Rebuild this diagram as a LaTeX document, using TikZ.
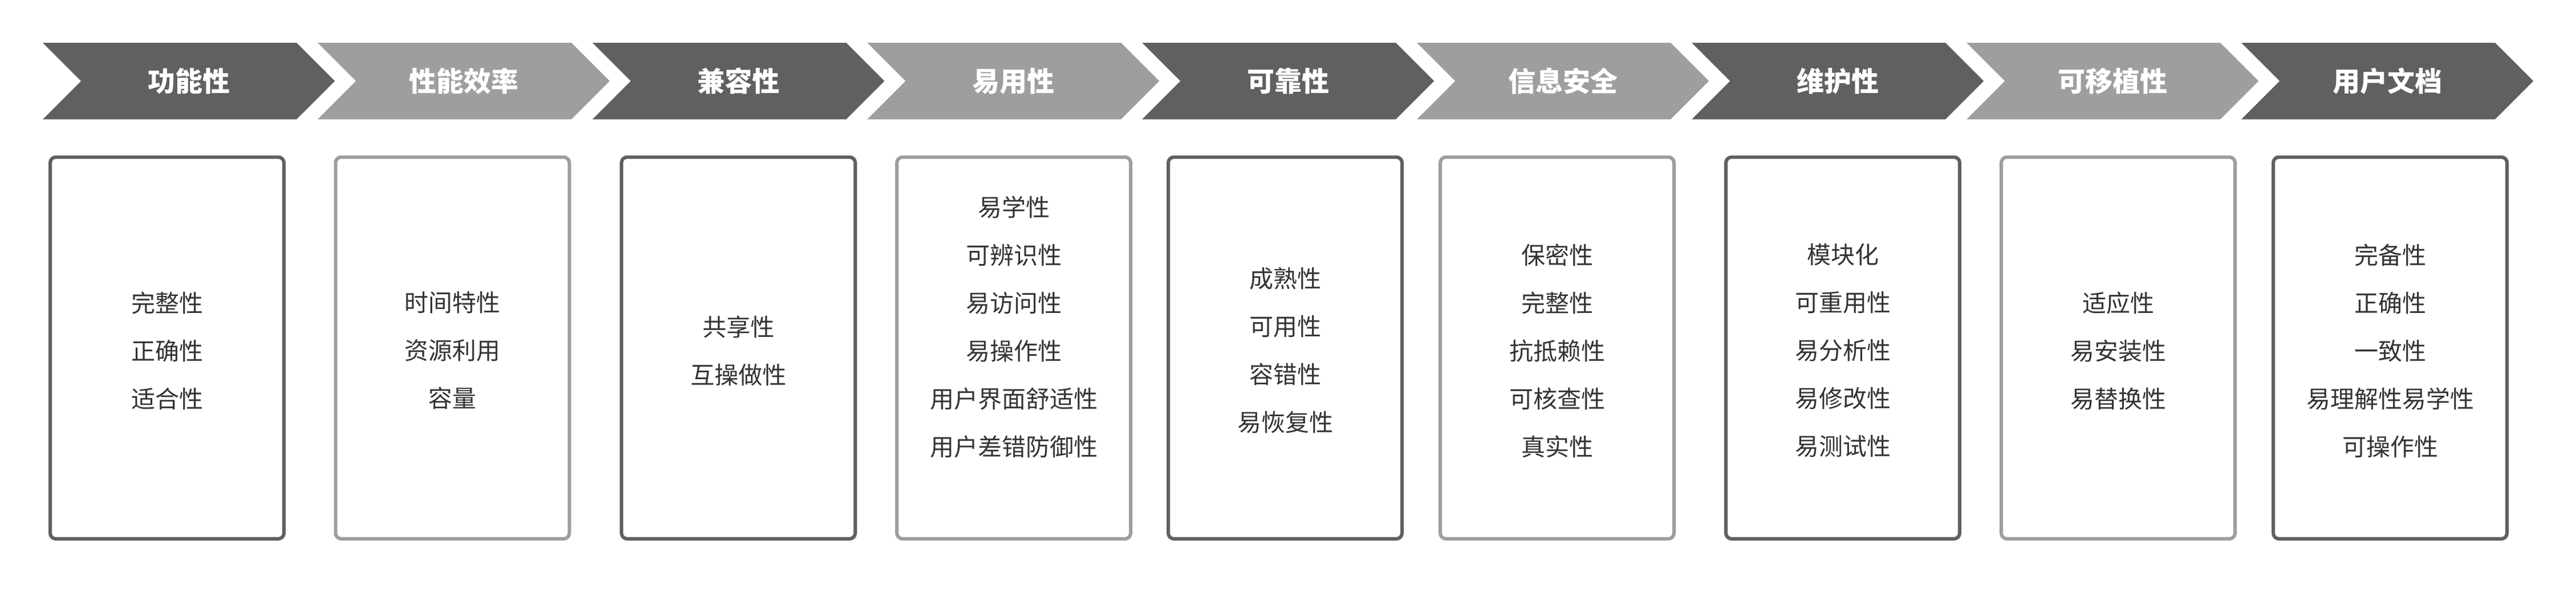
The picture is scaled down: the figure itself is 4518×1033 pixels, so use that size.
\documentclass[tikz,border=0pt]{standalone}
\usepackage{fontspec}
\newfontfamily\cjk{Noto Sans CJK SC}
\definecolor{darkgrey}{HTML}{606060}
\definecolor{lightgrey}{HTML}{9E9E9E}
\definecolor{itemgrey}{HTML}{333333}

\begin{document}
\begin{tikzpicture}[x=0.5pt, y=-0.5pt]
        \tikzstyle{darkarrow}=[fill=darkgrey]
        \tikzstyle{lightarrow}=[fill=lightgrey]
        \tikzstyle{title}=[font=\cjk\bfseries\fontsize{24}{28}\selectfont, text=white]
        \tikzstyle{box}=[rectangle, line width=3pt, rounded corners=5pt, minimum width=205pt, minimum height=334.75pt]
        \tikzstyle{darkbox}=[box, draw=darkgrey]
        \tikzstyle{lightbox}=[box, draw=lightgrey]
        \tikzstyle{items}=[font=\cjk\fontsize{21}{42}\selectfont, text=itemgrey, align=center]
        \useasboundingbox (0,0) rectangle (4518,1033);

        \fill[darkarrow] (75,75) -- ++(445,0) -- ++(67.2,67.2) -- ++(-67.2,67.2) -- ++(-445,0) -- ++(67.2,-67.2) -- cycle;
        \fill[lightarrow] (557,75) -- ++(445,0) -- ++(67.2,67.2) -- ++(-67.2,67.2) -- ++(-445,0) -- ++(67.2,-67.2) -- cycle;
        \fill[darkarrow] (1039,75) -- ++(445,0) -- ++(67.2,67.2) -- ++(-67.2,67.2) -- ++(-445,0) -- ++(67.2,-67.2) -- cycle;
        \fill[lightarrow] (1521,75) -- ++(445,0) -- ++(67.2,67.2) -- ++(-67.2,67.2) -- ++(-445,0) -- ++(67.2,-67.2) -- cycle;
        \fill[darkarrow] (2003,75) -- ++(445,0) -- ++(67.2,67.2) -- ++(-67.2,67.2) -- ++(-445,0) -- ++(67.2,-67.2) -- cycle;
        \fill[lightarrow] (2485,75) -- ++(445,0) -- ++(67.2,67.2) -- ++(-67.2,67.2) -- ++(-445,0) -- ++(67.2,-67.2) -- cycle;
        \fill[darkarrow] (2967,75) -- ++(445,0) -- ++(67.2,67.2) -- ++(-67.2,67.2) -- ++(-445,0) -- ++(67.2,-67.2) -- cycle;
        \fill[lightarrow] (3449,75) -- ++(445,0) -- ++(67.2,67.2) -- ++(-67.2,67.2) -- ++(-445,0) -- ++(67.2,-67.2) -- cycle;
        \fill[darkarrow] (3931,75) -- ++(445,0) -- ++(67.2,67.2) -- ++(-67.2,67.2) -- ++(-445,0) -- ++(67.2,-67.2) -- cycle;

        \node[title] (functionality) at (331,142.2) {功能性};
        \node[title] (efficiency) at (813,142.2) {性能效率};
        \node[title] (compatibility) at (1295,142.2) {兼容性};
        \node[title] (usability) at (1777,142.2) {易用性};
        \node[title] (reliability) at (2259,142.2) {可靠性};
        \node[title] (security) at (2741,142.2) {信息安全};
        \node[title] (maintainability) at (3223,142.2) {维护性};
        \node[title] (portability) at (3705,142.2) {可移植性};
        \node[title] (userdocs) at (4187,142.2) {用户文档};

        \node[darkbox] (functionalityBox) at (293,610.25) {};
        \node[lightbox] (efficiencyBox) at (793.5,610.25) {};
        \node[darkbox] (compatibilityBox) at (1295,610.25) {};
        \node[lightbox] (usabilityBox) at (1778,610.25) {};
        \node[darkbox] (reliabilityBox) at (2254,610.25) {};
        \node[lightbox] (securityBox) at (2731,610.25) {};
        \node[darkbox] (maintainabilityBox) at (3232,610.25) {};
        \node[lightbox] (portabilityBox) at (3715,610.25) {};
        \node[darkbox] (userdocsBox) at (4192,610.25) {};

        \node[items] (functionalityItems) at (293,615) {完整性\\正确性\\适合性};
        \node[items] (efficiencyItems) at (793.5,615) {时间特性\\资源利用\\容量};
        \node[items] (compatibilityItems) at (1295,615) {共享性\\互操做性};
        \node[items] (usabilityItems) at (1778,573.5) {易学性\\可辨识性\\易访问性\\易操作性\\用户界面舒适性\\用户差错防御性};
        \node[items] (reliabilityItems) at (2254,615) {成熟性\\可用性\\容错性\\易恢复性};
        \node[items] (securityItems) at (2731,615) {保密性\\完整性\\抗抵赖性\\可核查性\\真实性};
        \node[items] (maintainabilityItems) at (3232,615) {模块化\\可重用性\\易分析性\\易修改性\\易测试性};
        \node[items] (portabilityItems) at (3715,615) {适应性\\易安装性\\易替换性};
        \node[items] (userdocsItems) at (4192,615) {完备性\\正确性\\一致性\\易理解性易学性\\可操作性};
    \end{tikzpicture}
\end{document}
